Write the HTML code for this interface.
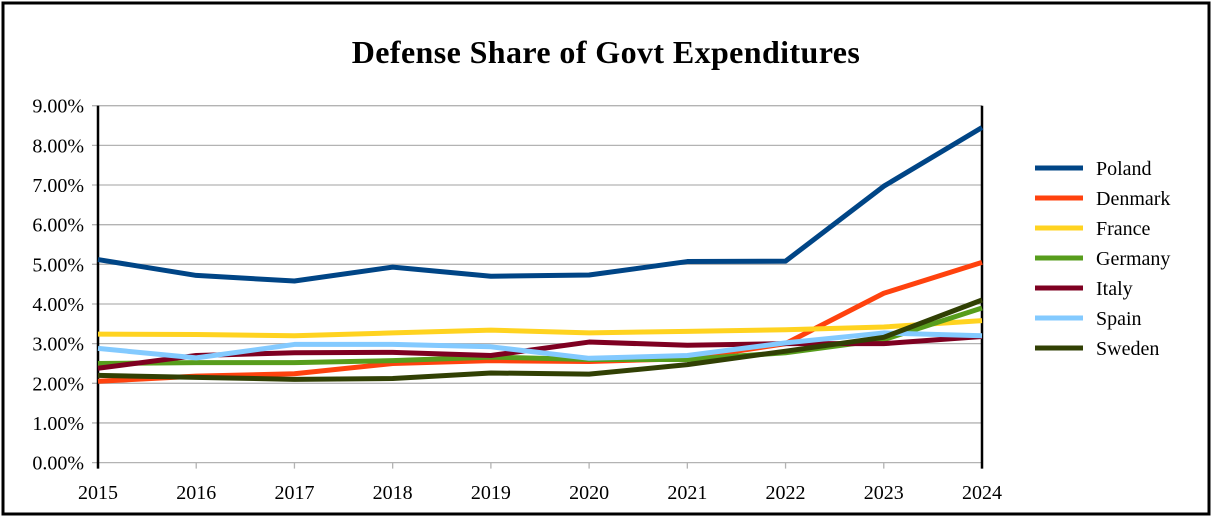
<!DOCTYPE html>
<html><head><meta charset="utf-8"><style>
body{margin:0;background:#fff;}
svg{display:block;font-family:"Liberation Serif",serif;}
</style></head><body>
<svg width="1213" height="519">
<rect x="3" y="3" width="1206" height="511" fill="#fff" stroke="#000" stroke-width="3"/>
<text x="606" y="63" text-anchor="middle" font-size="32" font-weight="bold" letter-spacing="0.4">Defense Share of Govt Expenditures</text>
<g id="grid"></g><g id="series"></g><g id="legend"></g>
</svg>
<script>
const years=[2015,2016,2017,2018,2019,2020,2021,2022,2023,2024];
const yTicks=[0,1,2,3,4,5,6,7,8,9];
const names=["Poland","Denmark","France","Germany","Italy","Spain","Sweden"];
const colors=["#004586","#ff420e","#ffd320","#579d1c","#7e0021","#83caff","#314004"];
const poland=[5.12,4.72,4.58,4.93,4.70,4.73,5.07,5.08,6.97,8.45];
const denmark=[2.05,2.18,2.24,2.50,2.57,2.55,2.62,3.00,4.27,5.05];
const france=[3.24,3.23,3.20,3.27,3.34,3.27,3.31,3.35,3.42,3.58];
const germany=[2.50,2.52,2.52,2.57,2.66,2.60,2.60,2.77,3.10,3.90];
const italy=[2.38,2.70,2.77,2.78,2.70,3.04,2.96,3.00,3.00,3.18];
const spain=[2.88,2.64,2.98,2.98,2.92,2.63,2.70,3.02,3.27,3.20];
const sweden=[2.20,2.15,2.10,2.12,2.26,2.23,2.47,2.81,3.16,4.10];
const series=[poland,denmark,france,germany,italy,spain,sweden];
const NS="http://www.w3.org/2000/svg";
const X0=98,X1=982,Y0=462.6,Y1=105.7;
const x=i=>X0+(X1-X0)*i/(years.length-1);
const y=v=>Y0+(Y1-Y0)*v/9;
function mk(t,a,p){const e=document.createElementNS(NS,t);for(const k in a)e.setAttribute(k,a[k]);p.appendChild(e);return e;}
const grid=document.getElementById('grid');
yTicks.forEach(t=>{
 const l=mk('line',{x1:X0-6,x2:X1,y1:y(t),y2:y(t),stroke:'#b3b3b3','stroke-width':1.3},grid);
 
 
 const tx=mk('text',{x:84,y:y(t)+7,'text-anchor':'end','font-size':20},grid);
 tx.textContent=t.toFixed(2)+'%';
 
 
});
years.forEach((yr,i)=>{
 const l=mk('line',{x1:x(i),x2:x(i),y1:Y0,y2:Y0+6,stroke:'#b3b3b3','stroke-width':1.3},grid);
 
 
 const tx=mk('text',{x:x(i),y:499,'text-anchor':'middle','font-size':20},grid);
 tx.textContent=yr;
 
 
});
const ax=mk('line',{x1:X0,x2:X0,y1:Y1,y2:Y0+6,stroke:'#000','stroke-width':2.5},grid);


const rb=mk('line',{x1:X1,x2:X1,y1:Y1,y2:Y0+6,stroke:'#000','stroke-width':2.5},grid);


const sg=document.getElementById('series'),lg=document.getElementById('legend');
series.forEach((s,k)=>{
 const p=mk('polyline',{points:s.map((v,i)=>x(i)+','+y(v)).join(' '),fill:'none',stroke:colors[k],'stroke-width':5,'stroke-linejoin':'round'},sg);
 
 
 const ly=168+30*k;
 const ll=mk('line',{x1:1035,x2:1083,y1:ly,y2:ly,stroke:colors[k],'stroke-width':5},lg);
 
 
 const lt=mk('text',{x:1096,y:ly+7,'font-size':20},lg);
 lt.textContent=names[k];
 
 
});
</script>
</body></html>
